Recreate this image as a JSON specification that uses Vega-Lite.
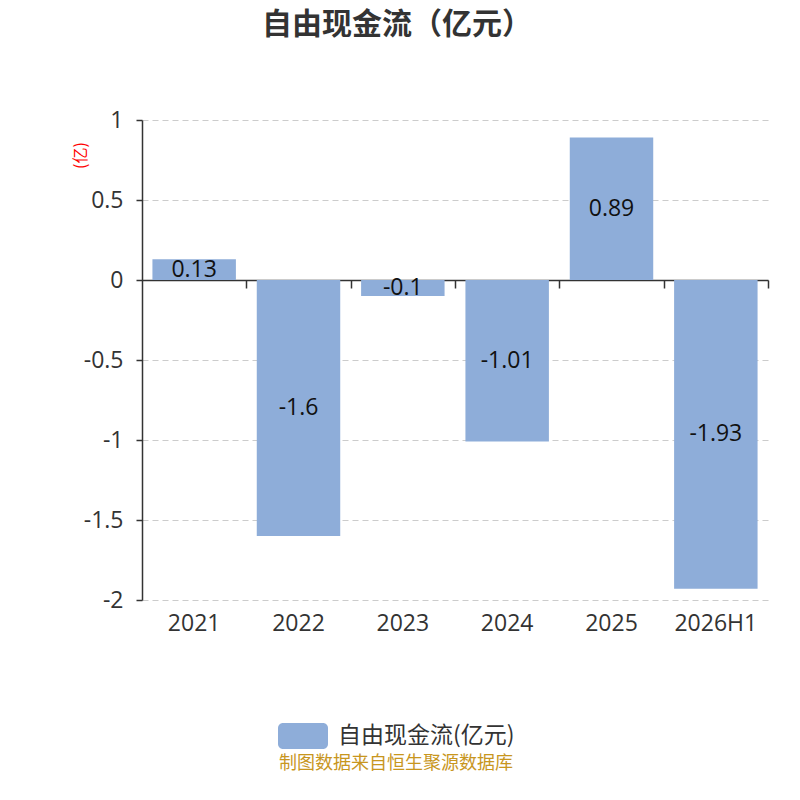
{
  "$schema": "https://vega.github.io/schema/vega-lite/v6.json",
  "width": 626,
  "height": 480,
  "autosize": {"type": "none"},
  "padding": {"left": 142, "top": 120, "right": 32, "bottom": 200},
  "background": "white",
  "title": {
    "text": "自由现金流（亿元）",
    "fontSize": 30,
    "fontWeight": "bold",
    "color": "#333333",
    "font": "Noto Sans CJK SC",
    "anchor": "middle",
    "dx": -58,
    "offset": 69
  },
  "config": {
    "font": "Noto Sans CJK SC",
    "view": {"stroke": null}
  },
  "data": {
    "values": [
      {"year": "2021", "value": 0.13},
      {"year": "2022", "value": -1.6},
      {"year": "2023", "value": -0.1},
      {"year": "2024", "value": -1.01},
      {"year": "2025", "value": 0.89},
      {"year": "2026H1", "value": -1.93}
    ]
  },
  "resolve": {"axis": {"x": "independent"}},
  "layer": [
    {
      "mark": {"type": "bar", "color": "#8eadd9"},
      "encoding": {
        "x": {
          "field": "year",
          "type": "nominal",
          "sort": null,
          "scale": {"paddingInner": 0.2, "paddingOuter": 0.1},
          "axis": {
            "title": null,
            "domain": false,
            "ticks": false,
            "labelAngle": 0,
            "labelFont": "Open Sans",
            "labelFontSize": 23,
            "labelColor": "#333333",
            "labelPadding": 12
          }
        },
        "y": {
          "field": "value",
          "type": "quantitative",
          "scale": {"domain": [-2, 1]},
          "axis": {
            "title": "(亿)",
            "titleColor": "#ff0000",
            "titleFontSize": 16,
            "titleFontWeight": "normal",
            "titleAngle": -90,
            "titleAlign": "center",
            "titleBaseline": "middle",
            "titleX": -62,
            "titleY": 35,
            "values": [-2, -1.5, -1, -0.5, 0, 0.5, 1],
            "labelExpr": "datum.value + ''",
            "labelFont": "Open Sans",
            "labelFontSize": 23,
            "labelColor": "#333333",
            "labelPadding": 13,
            "domainColor": "#333333",
            "domainWidth": 1.5,
            "tickColor": "#333333",
            "tickSize": 6,
            "tickWidth": 1.5,
            "grid": true,
            "gridColor": "#cccccc",
            "gridDash": [6, 4],
            "gridWidth": 1.2
          }
        },
        "color": {
          "datum": "自由现金流(亿元)",
          "scale": {"range": ["#8eadd9"]},
          "legend": {
            "orient": "none",
            "legendX": 136,
            "legendY": 591,
            "padding": 0,
            "direction": "horizontal",
            "title": "制图数据来自恒生聚源数据库",
            "titleOrient": "bottom",
            "titleAnchor": "middle",
            "titleLimit": 500,
            "titleColor": "#c8961e",
            "titleFontSize": 18,
            "titleFontWeight": "normal",
            "titlePadding": 6,
            "labelFontSize": 23,
            "labelColor": "#333333",
            "labelOffset": 10,
            "labelLimit": 400,
            "symbolType": "M-0.8,-0.52 L0.8,-0.52 A0.2,0.2 0 0 1 1,-0.32 L1,0.32 A0.2,0.2 0 0 1 0.8,0.52 L-0.8,0.52 A0.2,0.2 0 0 1 -1,0.32 L-1,-0.32 A0.2,0.2 0 0 1 -0.8,-0.52 Z",
            "symbolSize": 2500,
            "symbolStrokeWidth": 0,
            "symbolOpacity": 1
          }
        }
      }
    },
    {
      "transform": [{"calculate": "datum.value / 2", "as": "mid"}],
      "mark": {"type": "text", "font": "Open Sans", "fontSize": 23, "color": "#111111", "baseline": "middle"},
      "encoding": {
        "x": {
          "field": "year",
          "type": "nominal",
          "sort": null,
          "axis": {
            "title": null,
            "labels": false,
            "offset": -160,
            "domainColor": "#333333",
            "domainWidth": 1.5,
            "tickColor": "#333333",
            "tickSize": -8,
            "tickWidth": 1.5,
            "tickOffset": 52.17
          }
        },
        "y": {"field": "mid", "type": "quantitative"},
        "text": {"field": "value", "type": "nominal"}
      }
    }
  ]
}
